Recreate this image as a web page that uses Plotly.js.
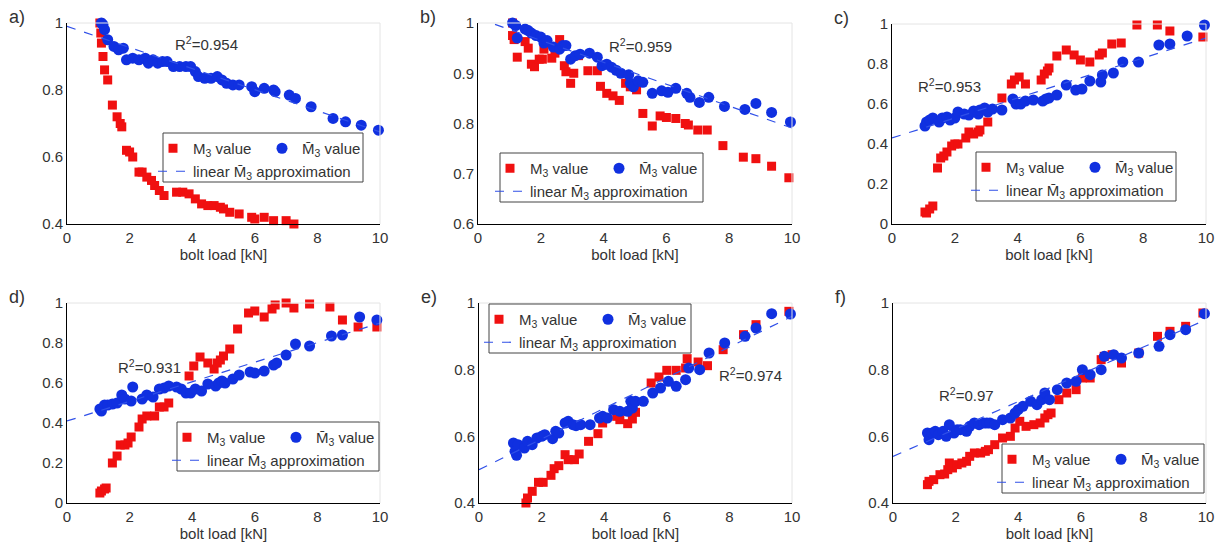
<!DOCTYPE html>
<html><head><meta charset="utf-8">
<script src="https://cdn.plot.ly/plotly-3.0.1.min.js"></script>
<style>body{margin:0;background:#fff}</style></head>
<body><div id="chart" style="width:1229px;height:549px"></div>
<script>
const panelLabels = ["a)","b)","c)","d)","e)","f)"];
const r2Labels = ["0.954","0.959","0.953","0.931","0.974","0.97"];
const yRanges = [[0.4,1],[0.6,1],[0,1],[0,1],[0.4,1],[0.4,1]];
const yTicks = [[0.4,0.6,0.8,1],[0.6,0.7,0.8,0.9,1],[0,0.2,0.4,0.6,0.8,1],[0,0.2,0.4,0.6,0.8,1],[0.4,0.6,0.8,1],[0.4,0.6,0.8,1]];
const xTicks = [0,2,4,6,8,10];
const lineX = [0,10];
const lineA = [0.99,0.675], lineB = [1.009,0.791], lineC = [0.43,0.93], lineD = [0.41,0.90], lineE = [0.50,0.96], lineF = [0.54,0.95];

const redA = [[1.05,1.0],[1.08,0.97],[1.1,0.94],[1.15,0.9],[1.2,0.86],[1.3,0.83],[1.45,0.755],[1.6,0.72],[1.7,0.7],[1.75,0.69],[1.9,0.62],[2.0,0.615],[2.1,0.6],[2.3,0.555],[2.4,0.555],[2.55,0.54],[2.7,0.53],[2.8,0.515],[2.95,0.5],[3.1,0.485],[3.5,0.495],[3.7,0.495],[3.9,0.49],[4.1,0.475],[4.3,0.46],[4.5,0.455],[4.7,0.455],[4.9,0.45],[5.0,0.445],[5.2,0.435],[5.5,0.43],[5.9,0.42],[6.0,0.415],[6.3,0.42],[6.6,0.41],[7.0,0.41],[7.25,0.4]];
const blueA = [[1.1,1.0],[1.15,0.995],[1.2,0.98],[1.3,0.95],[1.5,0.93],[1.65,0.92],[1.8,0.925],[1.9,0.89],[2.1,0.895],[2.3,0.89],[2.5,0.895],[2.6,0.88],[2.75,0.89],[2.9,0.88],[3.05,0.885],[3.2,0.885],[3.4,0.87],[3.6,0.87],[3.8,0.87],[3.95,0.87],[4.1,0.855],[4.2,0.84],[4.4,0.835],[4.6,0.835],[4.8,0.84],[4.95,0.83],[5.1,0.82],[5.3,0.815],[5.5,0.815],[5.9,0.81],[6.0,0.795],[6.3,0.805],[6.6,0.8],[6.65,0.795],[7.1,0.785],[7.3,0.775],[7.8,0.75],[8.5,0.715],[8.9,0.705],[9.4,0.695],[9.95,0.68]];
const redB = [[1.1,1.0],[1.1,0.975],[1.15,0.967],[1.25,0.932],[1.5,0.963],[1.6,0.95],[1.7,0.918],[1.8,0.913],[1.95,0.928],[2.05,0.928],[2.1,0.948],[2.35,0.93],[2.45,0.94],[2.6,0.967],[2.75,0.915],[2.8,0.903],[2.95,0.88],[3.05,0.9],[3.2,0.935],[3.5,0.905],[3.8,0.905],[3.9,0.874],[4.1,0.86],[4.3,0.855],[4.5,0.846],[4.7,0.88],[4.85,0.873],[5.05,0.867],[5.25,0.82],[5.55,0.795],[5.8,0.815],[6.0,0.812],[6.3,0.81],[6.6,0.8],[6.7,0.797],[7.0,0.787],[7.3,0.787],[7.8,0.756],[8.45,0.733],[8.85,0.73],[9.35,0.715],[9.9,0.692]];
const blueB = [[1.1,1.0],[1.2,0.995],[1.25,0.97],[1.5,0.988],[1.6,0.985],[1.7,0.98],[1.85,0.975],[2.0,0.972],[2.1,0.96],[2.2,0.965],[2.4,0.952],[2.6,0.948],[2.7,0.955],[2.8,0.955],[2.95,0.928],[3.1,0.935],[3.25,0.938],[3.55,0.94],[3.8,0.932],[3.95,0.915],[4.1,0.918],[4.25,0.912],[4.4,0.906],[4.55,0.9],[4.8,0.897],[4.85,0.88],[4.95,0.873],[5.1,0.885],[5.25,0.882],[5.55,0.86],[5.85,0.865],[6.05,0.862],[6.3,0.87],[6.65,0.86],[6.75,0.852],[7.05,0.842],[7.35,0.852],[7.85,0.834],[8.5,0.828],[8.85,0.84],[9.35,0.822],[9.95,0.803]];
const redC = [[1.05,0.06],[1.1,0.055],[1.2,0.075],[1.3,0.09],[1.45,0.28],[1.55,0.33],[1.65,0.34],[1.75,0.36],[1.9,0.39],[2.0,0.4],[2.1,0.4],[2.35,0.43],[2.45,0.46],[2.6,0.45],[2.75,0.46],[2.8,0.47],[3.05,0.51],[3.5,0.63],[3.8,0.7],[3.9,0.72],[4.05,0.735],[4.25,0.7],[4.75,0.72],[4.85,0.75],[4.95,0.765],[5.0,0.78],[5.25,0.84],[5.55,0.87],[5.8,0.845],[6.0,0.82],[6.3,0.81],[6.6,0.845],[6.7,0.855],[7.0,0.9],[7.3,0.905],[7.8,0.995],[8.45,0.995],[8.85,0.965],[9.9,0.935]];
const blueC = [[1.05,0.49],[1.1,0.51],[1.2,0.52],[1.3,0.53],[1.5,0.51],[1.6,0.53],[1.75,0.535],[1.85,0.52],[2.0,0.53],[2.1,0.56],[2.3,0.55],[2.45,0.545],[2.6,0.565],[2.75,0.55],[2.8,0.57],[2.95,0.58],[3.05,0.56],[3.2,0.575],[3.5,0.57],[3.85,0.625],[3.95,0.6],[4.1,0.6],[4.25,0.615],[4.5,0.62],[4.8,0.615],[4.9,0.625],[5.0,0.63],[5.25,0.645],[5.55,0.695],[5.85,0.67],[6.05,0.675],[6.3,0.715],[6.65,0.71],[6.7,0.745],[7.05,0.755],[7.35,0.81],[7.85,0.81],[8.5,0.895],[8.85,0.9],[9.4,0.94],[9.95,0.995]];
const redD = [[1.05,0.05],[1.1,0.06],[1.2,0.07],[1.25,0.075],[1.45,0.2],[1.6,0.235],[1.7,0.29],[1.85,0.29],[1.95,0.3],[2.05,0.33],[2.3,0.38],[2.4,0.42],[2.55,0.435],[2.8,0.435],[2.95,0.48],[3.1,0.48],[3.25,0.5],[3.9,0.635],[4.05,0.685],[4.25,0.73],[4.5,0.7],[4.7,0.67],[4.8,0.7],[4.9,0.715],[5.0,0.735],[5.2,0.77],[5.45,0.87],[5.8,0.95],[6.0,0.96],[6.3,0.93],[6.55,0.97],[6.65,0.99],[7.0,1.0],[7.25,0.975],[7.75,0.995],[8.4,0.98],[8.8,0.915],[9.3,0.88],[9.9,0.88]];
const blueD = [[1.05,0.47],[1.1,0.46],[1.2,0.49],[1.3,0.49],[1.45,0.495],[1.6,0.5],[1.75,0.54],[1.85,0.52],[2.05,0.51],[2.1,0.58],[2.4,0.52],[2.55,0.54],[2.75,0.53],[2.95,0.57],[3.1,0.575],[3.25,0.585],[3.5,0.58],[3.65,0.57],[3.8,0.55],[3.95,0.55],[4.1,0.57],[4.3,0.56],[4.5,0.595],[4.75,0.585],[4.85,0.6],[4.95,0.61],[5.05,0.6],[5.3,0.62],[5.5,0.64],[5.85,0.655],[6.0,0.65],[6.3,0.66],[6.6,0.69],[6.7,0.7],[7.0,0.74],[7.3,0.795],[7.75,0.785],[8.45,0.835],[8.8,0.84],[9.35,0.93],[9.9,0.915]];
const redE = [[1.5,0.4],[1.55,0.415],[1.7,0.435],[1.9,0.462],[2.05,0.462],[2.3,0.483],[2.4,0.503],[2.55,0.512],[2.75,0.545],[2.85,0.53],[3.05,0.53],[3.2,0.547],[3.5,0.585],[3.8,0.608],[3.95,0.64],[4.4,0.66],[4.5,0.65],[4.75,0.638],[4.9,0.652],[5.0,0.672],[5.5,0.76],[5.75,0.778],[6.0,0.798],[6.3,0.798],[6.6,0.805],[6.65,0.833],[7.0,0.823],[7.3,0.812],[7.8,0.86],[8.45,0.905],[8.85,0.935],[9.9,0.975]];
const blueE = [[1.1,0.58],[1.15,0.555],[1.2,0.543],[1.25,0.575],[1.45,0.565],[1.55,0.585],[1.7,0.575],[1.85,0.595],[2.0,0.6],[2.1,0.605],[2.35,0.593],[2.45,0.615],[2.55,0.61],[2.75,0.64],[2.85,0.645],[3.0,0.635],[3.1,0.632],[3.25,0.635],[3.55,0.635],[3.85,0.655],[3.95,0.66],[4.1,0.655],[4.3,0.68],[4.5,0.675],[4.75,0.675],[4.85,0.705],[4.9,0.685],[5.0,0.705],[5.25,0.705],[5.55,0.73],[5.8,0.745],[6.05,0.765],[6.3,0.75],[6.6,0.77],[6.7,0.805],[7.05,0.8],[7.35,0.85],[7.85,0.88],[8.5,0.9],[8.85,0.925],[9.35,0.968],[9.95,0.967]];
const redF = [[1.1,0.455],[1.15,0.465],[1.3,0.47],[1.5,0.485],[1.65,0.487],[1.75,0.5],[1.8,0.52],[1.9,0.505],[2.05,0.515],[2.2,0.52],[2.35,0.525],[2.45,0.54],[2.6,0.55],[2.8,0.55],[2.95,0.555],[3.05,0.56],[3.25,0.575],[3.5,0.595],[3.75,0.6],[3.9,0.625],[4.05,0.645],[4.25,0.63],[4.5,0.635],[4.7,0.64],[4.85,0.655],[4.95,0.665],[5.05,0.67],[5.3,0.71],[5.55,0.73],[5.85,0.74],[6.05,0.775],[6.3,0.775],[6.65,0.83],[6.75,0.84],[7.0,0.845],[7.3,0.82],[7.85,0.85],[8.45,0.9],[8.85,0.915],[9.35,0.93],[9.9,0.97]];
const blueF = [[1.1,0.61],[1.15,0.59],[1.25,0.61],[1.35,0.615],[1.45,0.605],[1.6,0.615],[1.7,0.6],[1.8,0.635],[1.95,0.61],[2.05,0.62],[2.15,0.62],[2.35,0.615],[2.45,0.63],[2.6,0.64],[2.75,0.635],[2.9,0.64],[3.0,0.64],[3.1,0.64],[3.25,0.635],[3.5,0.65],[3.75,0.655],[3.9,0.67],[4.0,0.68],[4.15,0.69],[4.4,0.705],[4.6,0.695],[4.75,0.71],[4.85,0.73],[5.0,0.71],[5.25,0.74],[5.55,0.76],[5.85,0.765],[6.05,0.8],[6.3,0.785],[6.65,0.8],[6.75,0.84],[7.05,0.845],[7.3,0.835],[7.85,0.85],[8.5,0.87],[8.85,0.905],[9.35,0.92],[9.95,0.968]];

const reds=[redA,redB,redC,redD,redE,redF], blues=[blueA,blueB,blueC,blueD,blueE,blueF], lines=[lineA,lineB,lineC,lineD,lineE,lineF];
const W=1229,H=549;
const boxes=[[67,380,23,224],[478,792,23,224],[892,1206,24,224],[67,380,303,503],[479,792,303,503],[893,1206,303,503]];
const legBoxes=[[163,363,133],[500,703,153],[976,1176,152],[177,379,422],[489,691,304],[1002,1204,444]];
const r2Pos=[[3.4,0.94],[4.1,0.956],[0.75,0.695],[1.55,0.68],[7.6,0.784],[1.4,0.724]];
const grey='#333', tf={family:'Arial, Liberation Sans, sans-serif',size:15,color:grey};
const data=[], layout={width:W,height:H,margin:{l:0,r:0,t:0,b:0},paper_bgcolor:'#fff',plot_bgcolor:'#fff',showlegend:true,shapes:[],annotations:[],font:tf};
boxes.forEach((b,i)=>{
  const n=i+1, xs=n===1?'':n, xa='x'+xs, ya='y'+xs;
  const l1='legend'+(2*i+1===1?'':2*i+1), l2='legend'+(2*i+2);
  data.push({x:reds[i].map(p=>p[0]),y:reds[i].map(p=>p[1]),type:'scatter',mode:'markers',xaxis:xa,yaxis:ya,legend:l1,
    name:'M<sub>3</sub> value',marker:{symbol:'square',size:9,color:'#f01010'},cliponaxis:false});
  data.push({x:blues[i].map(p=>p[0]),y:blues[i].map(p=>p[1]),type:'scatter',mode:'markers',xaxis:xa,yaxis:ya,legend:l1,
    name:'M\u0304<sub>3</sub> value',marker:{symbol:'circle',size:11,color:'#1030e0'},cliponaxis:false});
  data.push({x:lineX,y:lines[i],type:'scatter',mode:'lines',xaxis:xa,yaxis:ya,legend:l2,
    name:'linear M\u0304<sub>3</sub> approximation',line:{color:'#3050e8',width:1.2,dash:'dash'}});
  const ax={range:[0,10],tickvals:xTicks,domain:[b[0]/W,b[1]/W],anchor:ya,showline:true,linecolor:'#000',linewidth:1,ticks:'',
    showgrid:false,zeroline:false,tickfont:tf,title:{text:'bolt load [kN]',font:tf,standoff:4}};
  const ay={range:yRanges[i],tickvals:yTicks[i],domain:[1-b[3]/H,1-b[2]/H],anchor:xa,showline:true,linecolor:'#000',linewidth:1,ticks:'',
    showgrid:false,zeroline:false,tickfont:tf};
  layout['xaxis'+xs]=ax; layout['yaxis'+xs]=ay;
  layout.shapes.push({type:'line',xref:'paper',yref:'paper',x0:b[0]/W,x1:b[1]/W,y0:1-b[2]/H,y1:1-b[2]/H,line:{color:'#e4e4e4',width:1}});
  layout.shapes.push({type:'line',xref:'paper',yref:'paper',x0:b[1]/W,x1:b[1]/W,y0:1-b[2]/H,y1:1-b[3]/H,line:{color:'#e4e4e4',width:1}});
  const lb=legBoxes[i];
  layout.shapes.push({type:'rect',xref:'paper',yref:'paper',x0:lb[0]/W,x1:lb[1]/W,y0:1-lb[2]/H,y1:1-(lb[2]+49)/H,line:{color:'#444',width:1},fillcolor:'rgba(255,255,255,1)',layer:'above'});
  layout[l1]={x:(lb[0]-10)/W,y:1-(lb[2]-1)/H,xanchor:'left',yanchor:'top',orientation:'h',bgcolor:'rgba(0,0,0,0)',font:{...tf},entrywidth:64,itemclick:false,tracegroupgap:0};
  layout[l2]={x:(lb[0]-10)/W,y:1-(lb[2]+22)/H,xanchor:'left',yanchor:'top',orientation:'h',bgcolor:'rgba(0,0,0,0)',font:{...tf},itemclick:false};
  layout.annotations.push({xref:'paper',yref:'paper',x:(b[0]-60)/W,y:1-(b[2]-6)/H,xanchor:'left',yanchor:'middle',text:panelLabels[i],showarrow:false,font:{...tf,size:18}});
  layout.annotations.push({xref:xa,yref:ya,x:r2Pos[i][0],y:r2Pos[i][1],xanchor:'left',yanchor:'middle',text:'R<sup>2</sup>=' + r2Labels[i],showarrow:false,font:tf});
});
Plotly.newPlot('chart',data,layout,{staticPlot:true});
</script></body></html>
